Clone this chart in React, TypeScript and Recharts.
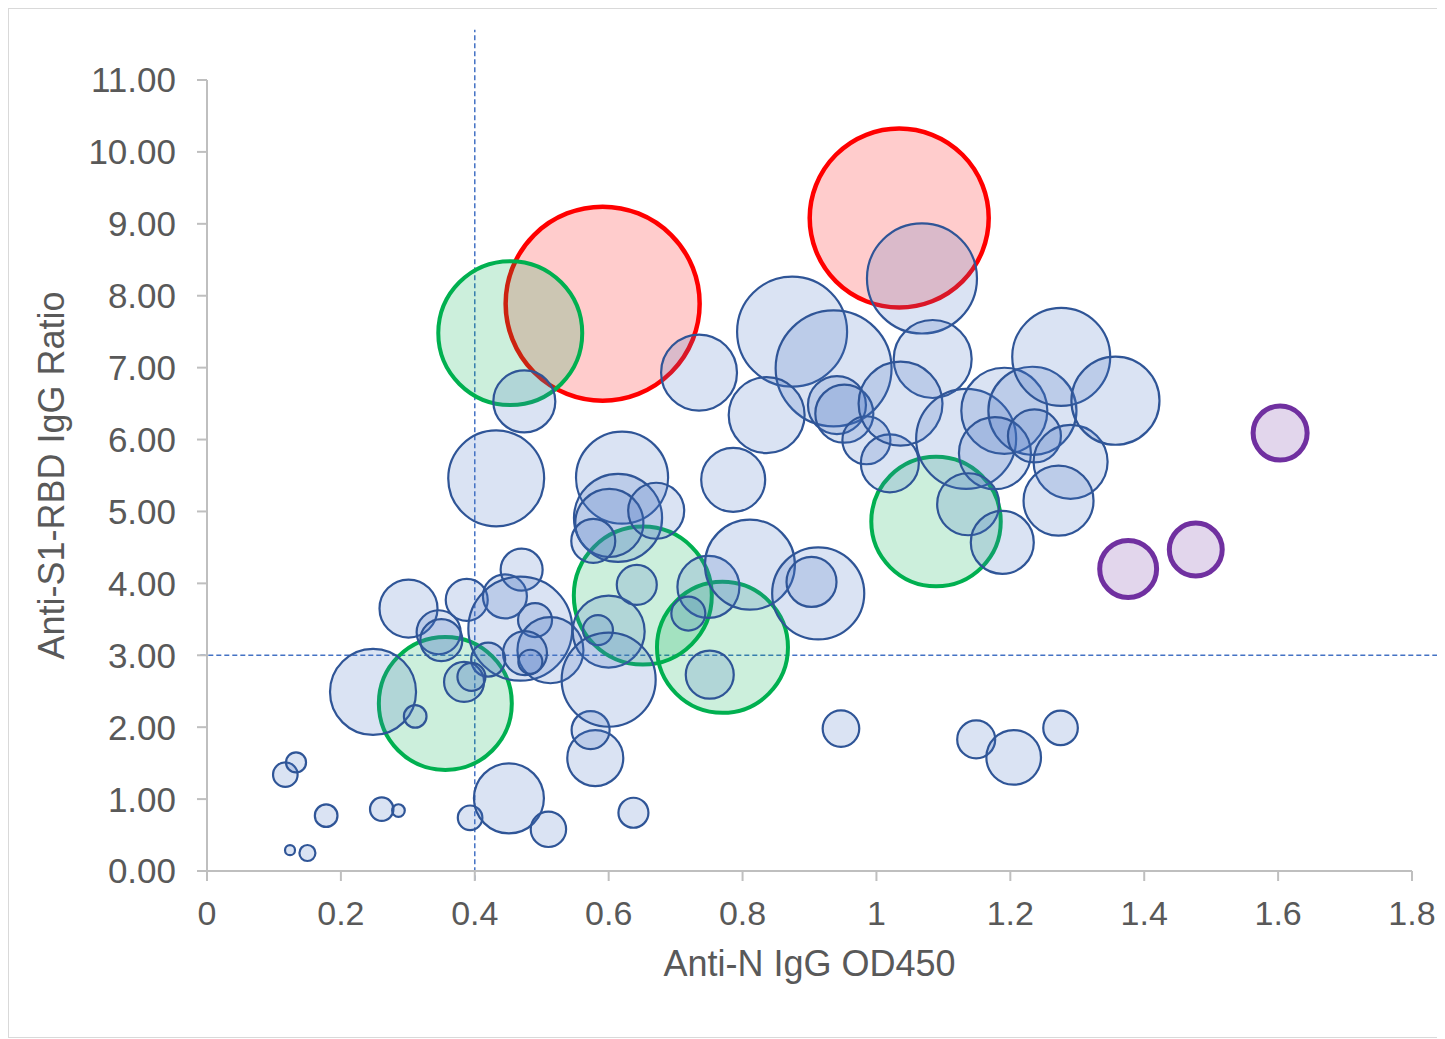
import React from 'react';
import { ScatterChart, Scatter, XAxis, YAxis, ZAxis, ReferenceLine } from 'recharts';

// ---- Data (x = Anti-N IgG OD450, y = Anti-S1-RBD IgG ratio, z = bubble size) ----
const blueSamples = [
  { x: 0.124, y: 0.29, z: 0.25 }, { x: 0.150, y: 0.25, z: 0.64 }, { x: 0.178, y: 0.77, z: 1.28 },
  { x: 0.117, y: 1.34, z: 1.51 }, { x: 0.133, y: 1.51, z: 1.0 }, { x: 0.261, y: 0.86, z: 1.37 },
  { x: 0.286, y: 0.84, z: 0.40 }, { x: 0.393, y: 0.74, z: 1.51 }, { x: 0.451, y: 1.01, z: 12.25 },
  { x: 0.510, y: 0.58, z: 3.13 }, { x: 0.637, y: 0.81, z: 2.25 }, { x: 0.580, y: 1.57, z: 7.84 },
  { x: 0.573, y: 1.96, z: 3.61 }, { x: 0.947, y: 1.98, z: 3.35 }, { x: 1.149, y: 1.83, z: 3.61 },
  { x: 1.205, y: 1.58, z: 7.45 }, { x: 1.275, y: 1.99, z: 2.99 }, { x: 0.248, y: 2.49, z: 18.5 },
  { x: 0.311, y: 2.15, z: 1.28 }, { x: 0.301, y: 3.65, z: 8.41 }, { x: 0.346, y: 3.32, z: 4.84 },
  { x: 0.350, y: 3.21, z: 4.41 }, { x: 0.388, y: 3.77, z: 4.41 }, { x: 0.445, y: 3.82, z: 4.84 },
  { x: 0.470, y: 4.19, z: 4.41 }, { x: 0.468, y: 3.37, z: 27.0 }, { x: 0.490, y: 3.49, z: 2.89 },
  { x: 0.513, y: 3.07, z: 10.9 }, { x: 0.475, y: 3.03, z: 4.84 }, { x: 0.483, y: 2.91, z: 1.44 },
  { x: 0.420, y: 2.94, z: 2.89 }, { x: 0.384, y: 2.63, z: 4.0 }, { x: 0.395, y: 2.70, z: 1.96 },
  { x: 0.600, y: 3.33, z: 12.96 }, { x: 0.584, y: 3.35, z: 2.25 }, { x: 0.600, y: 2.66, z: 22.1 },
  { x: 0.642, y: 3.98, z: 4.0 }, { x: 0.749, y: 3.95, z: 9.61 }, { x: 0.719, y: 3.58, z: 2.89 },
  { x: 0.751, y: 2.73, z: 5.76 }, { x: 0.811, y: 4.26, z: 20.25 }, { x: 0.913, y: 3.86, z: 21.2 },
  { x: 0.903, y: 4.02, z: 6.25 }, { x: 0.474, y: 6.53, z: 9.61 }, { x: 0.432, y: 5.46, z: 23.0 },
  { x: 0.735, y: 6.93, z: 14.4 }, { x: 0.620, y: 5.47, z: 21.2 }, { x: 0.614, y: 4.91, z: 19.4 },
  { x: 0.601, y: 4.84, z: 11.6 }, { x: 0.671, y: 5.01, z: 7.84 }, { x: 0.577, y: 4.59, z: 4.84 },
  { x: 0.786, y: 5.44, z: 10.24 }, { x: 0.874, y: 7.50, z: 30.25 }, { x: 0.936, y: 6.99, z: 33.6 },
  { x: 0.836, y: 6.34, z: 14.4 }, { x: 1.068, y: 8.24, z: 30.25 }, { x: 1.084, y: 7.12, z: 15.2 },
  { x: 0.941, y: 6.48, z: 8.41 }, { x: 0.952, y: 6.36, z: 8.41 }, { x: 0.985, y: 5.99, z: 5.76 },
  { x: 1.020, y: 5.67, z: 8.41 }, { x: 1.036, y: 6.50, z: 17.6 }, { x: 1.134, y: 6.01, z: 25.0 },
  { x: 1.191, y: 6.40, z: 18.5 }, { x: 1.233, y: 6.40, z: 19.4 }, { x: 1.177, y: 5.81, z: 12.96 },
  { x: 1.236, y: 6.05, z: 7.02 }, { x: 1.290, y: 5.69, z: 13.7 }, { x: 1.272, y: 5.15, z: 12.25 },
  { x: 1.137, y: 5.10, z: 9.61 }, { x: 1.188, y: 4.57, z: 9.92 }, { x: 1.276, y: 7.15, z: 24.0 },
  { x: 1.357, y: 6.54, z: 19.4 },
];

const redSamples = [
  { x: 0.591, y: 7.89, z: 94.1 },
  { x: 1.034, y: 9.08, z: 80.1 },
];

const greenSamples = [
  { x: 0.453, y: 7.48, z: 51.8 },
  { x: 0.651, y: 3.83, z: 47.6 },
  { x: 0.770, y: 3.11, z: 42.9 },
  { x: 0.356, y: 2.33, z: 44.2 },
  { x: 1.089, y: 4.86, z: 41.9 },
];

const purpleSamples = [
  { x: 1.603, y: 6.09, z: 7.3 },
  { x: 1.477, y: 4.47, z: 7.0 },
  { x: 1.376, y: 4.20, z: 8.1 },
];

const xTicks = [0, 0.2, 0.4, 0.6, 0.8, 1, 1.2, 1.4, 1.6, 1.8];
const yTicks = [0, 1, 2, 3, 4, 5, 6, 7, 8, 9, 10, 11];
const xCutoff = 0.4;
const yCutoff = 3;

const xTitle = 'Anti-N IgG OD450';
const yTitle = 'Anti-S1-RBD IgG Ratio';

const FONT = '"Liberation Sans", Arial, sans-serif';
const TEXT = '#595959';
const AXIS = '#BFBFBF';

function YTitle(props: any) {
  const vb = props.viewBox || { x: 0, y: 0, width: 0, height: 0 };
  const x = vb.x + 55;
  const y = vb.y + vb.height / 2;
  return (
    <text x={x} y={y} transform={`rotate(-90, ${x}, ${y})`} textAnchor="middle"
      fill={TEXT} fontSize={36} fontFamily={FONT}>{yTitle}</text>
  );
}

function XTitle(props: any) {
  const vb = props.viewBox || { x: 0, y: 0, width: 0, height: 0 };
  const x = vb.x + vb.width / 2;
  const y = vb.y + 105;
  return (
    <text x={x} y={y} textAnchor="middle" fill={TEXT} fontSize={36} fontFamily={FONT}>{xTitle}</text>
  );
}

export default function App() {
  return (
    <div style={{ width: 1428, height: 1028, border: '1px solid #D9D9D9', background: '#ffffff' }}>
      <ScatterChart width={1428} height={1028} margin={{ top: 71, right: 25, bottom: 0, left: 0 }}>
        <XAxis
          type="number"
          dataKey="x"
          domain={[0, 1.8]}
          ticks={xTicks}
          interval={0}
          height={166}
          tickFormatter={(v: number) => String(v)}
          axisLine={{ stroke: AXIS, strokeWidth: 2 }}
          tickLine={{ stroke: AXIS, strokeWidth: 2 }}
          tickSize={10}
          tickMargin={20}
          tick={{ fill: TEXT, fontSize: 34, fontFamily: FONT }}
          label={{ content: XTitle }}
        />
        <YAxis
          type="number"
          dataKey="y"
          domain={[0, 11]}
          ticks={yTicks}
          interval={0}
          width={198}
          tickFormatter={(v: number) => v.toFixed(2)}
          axisLine={{ stroke: AXIS, strokeWidth: 2 }}
          tickLine={{ stroke: AXIS, strokeWidth: 2 }}
          tickSize={10}
          tickMargin={21}
          tick={{ fill: TEXT, fontSize: 35, fontFamily: FONT }}
          label={{ content: YTitle }}
        />
        <ZAxis type="number" dataKey="z" domain={[0, 100]} range={[0, 31416]} />
        <ReferenceLine
          segment={[{ x: xCutoff, y: -0.13 }, { x: xCutoff, y: 11.7 }]}
          stroke="#4472C4" strokeWidth={1.5} strokeDasharray="5 3" ifOverflow="visible"
        />
        <ReferenceLine
          segment={[{ x: -0.01, y: yCutoff }, { x: 1.85, y: yCutoff }]}
          stroke="#4472C4" strokeWidth={1.5} strokeDasharray="5 3" ifOverflow="visible"
        />
        <Scatter data={redSamples} fill="rgba(255,0,0,0.2)" stroke="#FF0000" strokeWidth={4.5} isAnimationActive={false} />
        <Scatter data={greenSamples} fill="rgba(0,176,80,0.2)" stroke="#00B050" strokeWidth={4} isAnimationActive={false} />
        <Scatter data={purpleSamples} fill="rgba(112,48,160,0.2)" stroke="#7030A0" strokeWidth={5} isAnimationActive={false} />
        <Scatter data={blueSamples} fill="rgba(68,114,196,0.2)" stroke="#2F5597" strokeWidth={2.2} isAnimationActive={false} />
      </ScatterChart>
    </div>
  );
}
